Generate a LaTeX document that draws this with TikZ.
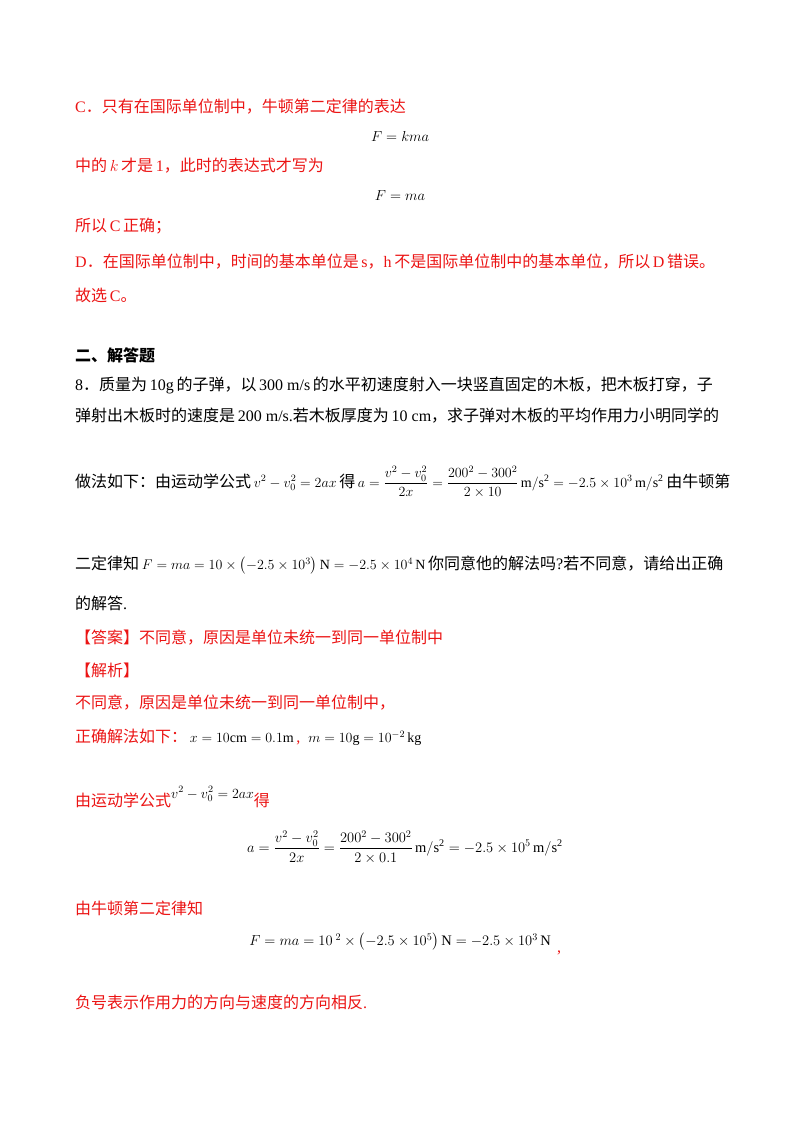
\RequirePackage{fix-cm}
\documentclass[tikz,border=0pt]{standalone}
\usepackage{amsmath}
\usepackage{fontspec}
\setmainfont{Liberation Serif}
\newfontfamily\cjk{Noto Sans CJK SC}
\newcommand{\zh}[1]{{\cjk #1}}
\newcommand{\mf}{\fontsize{14}{17}\selectfont}
\definecolor{rd}{RGB}{235,20,20}
\begin{document}
\begin{tikzpicture}[x=1pt,y=-1pt,
 t/.style={anchor=west,inner sep=0pt,font=\fontsize{16}{19}\selectfont},
 r/.style={t,text=rd},
 m/.style={anchor=center,inner sep=0pt,font=\fontsize{14.5}{17}\selectfont}]
\useasboundingbox (0,0) rectangle (800,1132);
\node[r] (c1) at (75,107) {C\zh{．只有在国际单位制中，牛顿第二定律的表达}};
\node[m] (e1) at (400,136) {$F=kma$};
\node[r] (c2) at (75,166) {\zh{中的}\,$k$\,\zh{才是}\,1\zh{，此时的表达式才写为}};
\node[m] (e2) at (400,196) {$F=ma$};
\node[r] (c3) at (75,226) {\zh{所以}\,C\,\zh{正确；}};
\node[r] (c4) at (75,262) {D\zh{．在国际单位制中，时间的基本单位是}\,s\zh{，}h\,\zh{不是国际单位制中的基本单位，所以}\,D\,\zh{错误。}};
\node[r] (c5) at (75,295) {\zh{故选}\,C\zh{。}};
\node[t] (h2) at (75,355) {{\cjk\bfseries 二、解答题}};
\node[t] (q1) at (75,385) {8\zh{．质量为}\,10g\,\zh{的子弹，以}\,300 m/s\,\zh{的水平初速度射入一块竖直固定的木板，把木板打穿，子}};
\node[t] (q2) at (75,416) {\zh{弹射出木板时的速度是}\,200 m/s.\zh{若木板厚度为}\,10 cm\zh{，求子弹对木板的平均作用力小明同学的}};
\node[t] (q3) at (75,482) {\zh{做法如下：由运动学公式}\,{\mf$v^2-v_0^2=2ax$}\,\zh{得}\,{\mf$a=\dfrac{v^2-v_0^2}{2x}=\dfrac{200^2-300^2}{2\times10}\,\mathrm{m/s^2}=-2.5\times10^3\,\mathrm{m/s^2}$}\,\zh{由牛顿第}};
\node[t] (q4) at (75,565) {\zh{二定律知}\,{\mf$F=ma=10\times\left(-2.5\times10^3\right)\mathrm{N}=-2.5\times10^4\,\mathrm{N}$}\,\zh{你同意他的解法吗}?\zh{若不同意，请给出正确}};
\node[t] (q5) at (75,603) {\zh{的解答}.};
\node[r] (a1) at (75,638) {\zh{【答案】不同意，原因是单位未统一到同一单位制中}};
\node[r] (a2) at (75,670) {\zh{【解析】}};
\node[r] (a3) at (75,703) {\zh{不同意，原因是单位未统一到同一单位制中，}};
\node[r] (a4) at (75,737) {\zh{正确解法如下：}\,\textcolor{black}{\mf$x=10\mathrm{cm}=0.1\mathrm{m}$}\,,\ \ \textcolor{black}{\mf$m=10\mathrm{g}=10^{-2}\,\mathrm{kg}$}};
\node[r] (a5) at (75,797) {\zh{由运动学公式}\textcolor{black}{\mf\raisebox{8pt}{$v^2-v_0^2=2ax$}}\zh{得}};
\node[m] (e3) at (405,847) {$a=\dfrac{v^2-v_0^2}{2x}=\dfrac{200^2-300^2}{2\times0.1}\,\mathrm{m/s^2}=-2.5\times10^5\,\mathrm{m/s^2}$};
\node[r] (a6) at (75,908) {\zh{由牛顿第二定律知}};
\node[m] (e4) at (400,942) {$F=ma=10^{\;2}\times\left(-2.5\times10^5\right)\mathrm{N}=-2.5\times10^3\,\mathrm{N}$};
\node[r] (cm) at (557,953) {,};
\node[r] (a7) at (75,1002) {\zh{负号表示作用力的方向与速度的方向相反}.};
\end{tikzpicture}
\end{document}
